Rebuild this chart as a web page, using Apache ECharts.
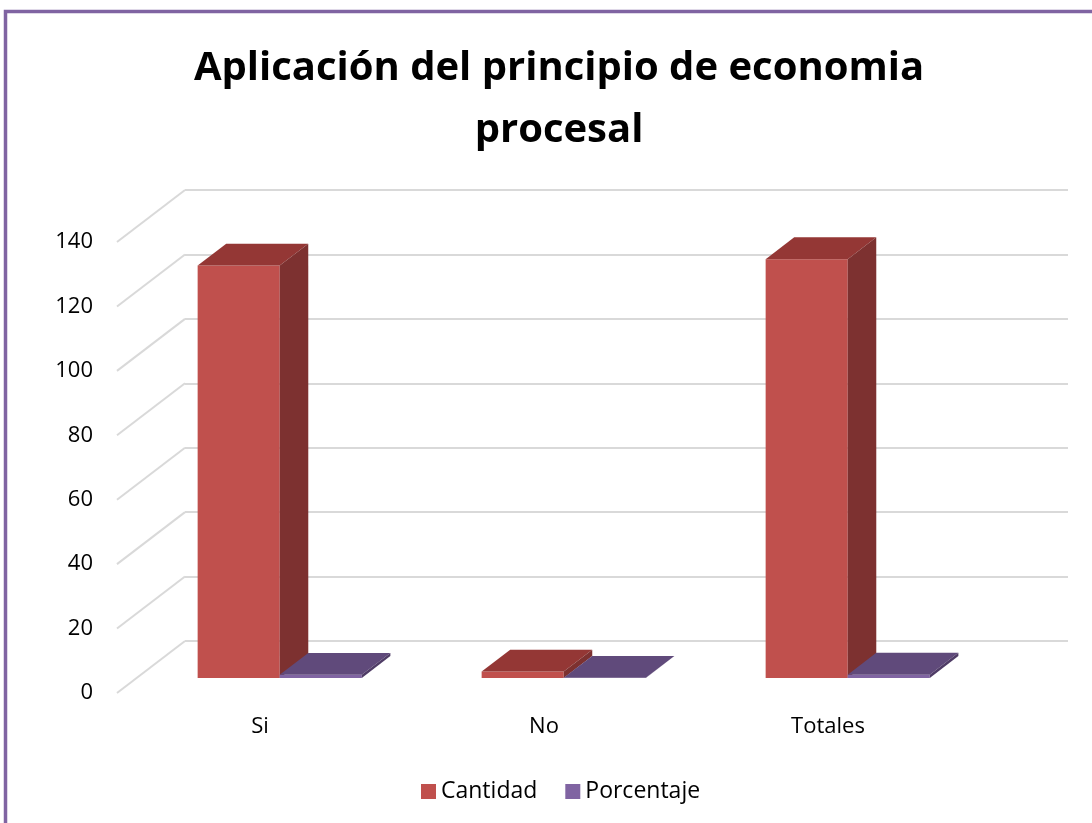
<!DOCTYPE html>
<html><head><meta charset="utf-8">
<script src="https://cdn.jsdelivr.net/npm/echarts@6/dist/echarts.min.js"></script>
<style>html,body{margin:0;padding:0;background:#fff}#c{width:1092px;height:823px}</style>
</head><body><div id="c"></div>
<script>
const categories = ['Si', 'No', 'Totales'];
const cantidad = [128, 2, 130];
const porcentaje = [0.98, 0.02, 1];
const yTicks = [0, 20, 40, 60, 80, 100, 120, 140];
const seriesNames = ['Cantidad', 'Porcentaje'];

const DEPTH = [68, -52];
const BAR_FRONT = 0.29, BAR_BACK = 0.71;
const palette = [
  { front: '#c0504d', top: '#943735', side: '#7d3130' },
  { front: '#8064a2', top: '#604a7b', side: '#4f3c66' }
];
const FONT = 'Open Sans';

function barRender(sIdx) {
  return function (params, api) {
    const c = api.value(0), v = api.value(1);
    const band = api.size([1, 0])[0];
    const bw = band * 0.289;
    const b = api.coord([c, 0]), t = api.coord([c, v]);
    const fx = DEPTH[0] * BAR_FRONT, fy = DEPTH[1] * BAR_FRONT;
    const dx = DEPTH[0] * (BAR_BACK - BAR_FRONT), dy = DEPTH[1] * (BAR_BACK - BAR_FRONT);
    const x0 = b[0] - bw + sIdx * bw + fx, x1 = x0 + bw;
    const y0 = b[1] + fy, y1 = t[1] + fy;
    const col = palette[sIdx];
    return { type: 'group', children: [
      { type: 'polygon', shape: { points: [[x0, y1], [x1, y1], [x1, y0], [x0, y0]] }, style: { fill: col.front } },
      { type: 'polygon', shape: { points: [[x0, y1], [x0 + dx, y1 + dy], [x1 + dx, y1 + dy], [x1, y1]] }, style: { fill: col.top } },
      { type: 'polygon', shape: { points: [[x1, y1], [x1 + dx, y1 + dy], [x1 + dx, y0 + dy], [x1, y0]] }, style: { fill: col.side } }
    ]};
  };
}

function wallRender(params, api) {
  const v = api.value(1);
  const p = api.coord([0, v]);
  const band = api.size([1, 0])[0];
  const xl = p[0] - band / 2 - 1;
  return { type: 'line', shape: { x1: xl, y1: p[1], x2: xl + DEPTH[0], y2: p[1] + DEPTH[1] },
    style: { stroke: '#d9d9d9', lineWidth: 2 } };
}

const chart = echarts.init(document.getElementById('c'));
chart.setOption({
  animation: false,
  backgroundColor: '#fff',
  title: {
    text: 'Aplicación del principio de economia\nprocesal',
    left: 554, top: 33, textAlign: 'center',
    textStyle: { fontFamily: FONT, fontSize: 40, fontWeight: 'bold', color: '#000', lineHeight: 62 }
  },
  legend: {
    data: seriesNames, left: 416, top: 775, itemWidth: 15, itemHeight: 15, itemGap: 28,
    icon: 'rect',
    textStyle: { fontFamily: FONT, fontSize: 23, color: '#000' }
  },
  graphic: [{ type: 'rect', shape: { x: 5.5, y: 11.5, width: 1200, height: 900 },
    style: { fill: 'none', stroke: '#8064a2', lineWidth: 3.5 }, z: 100 }],
  grid: [
    { left: 118, right: 122, top: 242, bottom: 130 },
    { left: 185, right: 24, top: 190, bottom: 182 }
  ],
  xAxis: [
    { type: 'category', gridIndex: 0, data: categories,
      axisLine: { show: false }, axisTick: { show: false },
      axisLabel: { margin: 23, fontFamily: FONT, fontSize: 22, color: '#000' } },
    { type: 'category', gridIndex: 1, data: categories, show: false }
  ],
  yAxis: [
    { type: 'value', gridIndex: 0, min: 0, max: 140, interval: 20,
      axisLine: { show: false }, axisTick: { show: false }, splitLine: { show: false },
      axisLabel: { margin: 25, fontFamily: FONT, fontSize: 22, color: '#000' } },
    { type: 'value', gridIndex: 1, min: 0, max: 140, interval: 20,
      axisLine: { show: false }, axisTick: { show: false }, axisLabel: { show: false },
      splitLine: { show: true, lineStyle: { color: '#d9d9d9', width: 2 } } }
  ],
  series: [
    { type: 'custom', name: 'wall', xAxisIndex: 0, yAxisIndex: 0, renderItem: wallRender,
      data: yTicks.map(v => [0, v]), silent: true, z: 1 },
    { type: 'custom', name: seriesNames[0], xAxisIndex: 0, yAxisIndex: 0, renderItem: barRender(0),
      itemStyle: { color: palette[0].front }, encode: { x: 0, y: 1 },
      data: cantidad.map((v, i) => [i, v]), z: 3 },
    { type: 'custom', name: seriesNames[1], xAxisIndex: 0, yAxisIndex: 0, renderItem: barRender(1),
      itemStyle: { color: palette[1].front }, encode: { x: 0, y: 1 },
      data: porcentaje.map((v, i) => [i, v]), z: 3 }
  ]
});
</script></body></html>
